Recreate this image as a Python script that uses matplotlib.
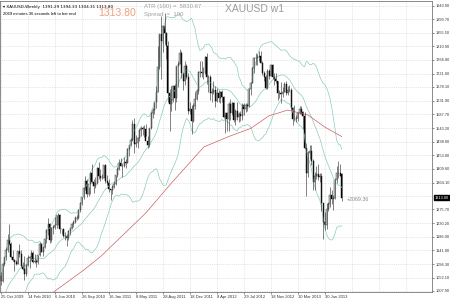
import numpy as np
import pandas as pd
import matplotlib
matplotlib.use("Agg")
import matplotlib.pyplot as plt
import matplotlib.transforms as mtransforms

# Weekly XAUUSD candles, one per week from the week of 25 Oct 2009.
opens = np.array([
    1057, 1041, 1096, 1118, 1142, 1175, 1162, 1119, 1110, 1104,
    1096, 1138, 1130, 1091, 1081, 1064, 1093, 1117, 1118, 1133,
    1102, 1106, 1104, 1125, 1162, 1136, 1153, 1179, 1208, 1229,
    1177, 1214, 1218, 1223, 1256, 1256, 1210, 1210, 1189, 1189,
    1181, 1204, 1215, 1227, 1236, 1247, 1246, 1274, 1297, 1317,
    1345, 1369, 1326, 1358, 1394, 1366, 1353, 1362, 1413, 1385,
    1378, 1380, 1421, 1369, 1361, 1343, 1340, 1348, 1360, 1388,
    1409, 1429, 1420, 1419, 1430, 1429, 1474, 1486, 1504, 1556,
    1492, 1493, 1510, 1536, 1542, 1541, 1539, 1502, 1486, 1542,
    1594, 1601, 1628, 1663, 1744, 1851, 1828, 1878, 1856, 1813,
    1657, 1622, 1636, 1682, 1642, 1746, 1755, 1788, 1724, 1696,
    1747, 1712, 1598, 1606, 1565, 1617, 1640, 1665, 1727, 1726,
    1725, 1724, 1777, 1710, 1711, 1657, 1662, 1668, 1631, 1657,
    1642, 1663, 1644, 1580, 1591, 1572, 1622, 1591, 1626, 1571,
    1598, 1579, 1590, 1583, 1619, 1605, 1620, 1616, 1671, 1692,
    1740, 1772, 1773, 1775, 1780, 1757, 1723, 1712, 1675, 1731,
    1714, 1751, 1712, 1704, 1696, 1657, 1658, 1656, 1662, 1687,
    1658, 1668, 1667, 1609, 1572, 1572, 1577, 1592, 1607, 1596,
    1581, 1477, 1395, 1462, 1469, 1435, 1366, 1386, 1392, 1383,
    1387, 1297, 1234, 1223, 1277, 1294, 1322, 1310, 1312, 1373,
    1396, 1396, 1391.29])
highs = np.array([
    1070, 1101, 1119, 1153, 1195, 1227, 1170, 1141, 1112, 1110,
    1140, 1162, 1143, 1104, 1122, 1096, 1127, 1122, 1142, 1139,
    1128, 1112, 1126, 1168, 1164, 1152, 1180, 1210, 1249, 1231,
    1217, 1226, 1252, 1258, 1265, 1262, 1213, 1216, 1202, 1194,
    1209, 1216, 1232, 1241, 1255, 1259, 1276, 1300, 1318, 1348,
    1387, 1375, 1350, 1398, 1424, 1375, 1382, 1414, 1432, 1407,
    1393, 1422, 1424, 1389, 1375, 1344, 1357, 1368, 1390, 1415,
    1440, 1445, 1427, 1448, 1440, 1476, 1487, 1509, 1569, 1577,
    1520, 1514, 1541, 1549, 1549, 1553, 1556, 1518, 1544, 1595,
    1610, 1628, 1681, 1813, 1853, 1912, 1881, 1921, 1859, 1830,
    1672, 1680, 1686, 1689, 1748, 1764, 1803, 1796, 1725, 1762,
    1752, 1724, 1628, 1620, 1626, 1661, 1671, 1730, 1764, 1763,
    1744, 1780, 1791, 1718, 1716, 1673, 1699, 1681, 1676, 1667,
    1666, 1667, 1647, 1590, 1597, 1627, 1640, 1628, 1628, 1605,
    1627, 1597, 1599, 1626, 1626, 1625, 1625, 1676, 1693, 1745,
    1777, 1788, 1787, 1796, 1795, 1763, 1730, 1718, 1737, 1737,
    1755, 1754, 1725, 1723, 1698, 1668, 1694, 1678, 1694, 1696,
    1680, 1684, 1674, 1612, 1620, 1587, 1595, 1616, 1616, 1600,
    1597, 1495, 1469, 1488, 1487, 1440, 1398, 1418, 1424, 1394,
    1397, 1298, 1267, 1298, 1299, 1348, 1339, 1323, 1380, 1419,
    1434, 1424, 1394.33])
lows = np.array([
    1026, 1036, 1090, 1111, 1135, 1160, 1116, 1108, 1075, 1092,
    1096, 1120, 1086, 1076, 1044, 1058, 1091, 1082, 1109, 1100,
    1100, 1086, 1096, 1124, 1135, 1124, 1150, 1165, 1192, 1167,
    1170, 1196, 1213, 1214, 1225, 1199, 1194, 1184, 1177, 1157,
    1177, 1192, 1210, 1219, 1231, 1240, 1243, 1268, 1290, 1310,
    1341, 1316, 1321, 1326, 1364, 1330, 1345, 1358, 1376, 1370,
    1375, 1378, 1361, 1355, 1332, 1308, 1327, 1345, 1356, 1382,
    1406, 1417, 1381, 1416, 1412, 1427, 1450, 1484, 1500, 1462,
    1480, 1478, 1501, 1518, 1521, 1515, 1516, 1478, 1482, 1540,
    1577, 1590, 1610, 1661, 1738, 1704, 1793, 1820, 1769, 1628,
    1534, 1600, 1628, 1603, 1628, 1678, 1752, 1706, 1667, 1685,
    1703, 1590, 1588, 1523, 1562, 1606, 1636, 1655, 1711, 1712,
    1705, 1722, 1688, 1660, 1635, 1627, 1656, 1612, 1627, 1629,
    1625, 1630, 1575, 1527, 1533, 1533, 1568, 1587, 1562, 1552,
    1571, 1564, 1567, 1568, 1585, 1596, 1598, 1612, 1653, 1690,
    1725, 1751, 1751, 1763, 1756, 1718, 1697, 1672, 1672, 1705,
    1713, 1705, 1683, 1692, 1635, 1642, 1625, 1645, 1660, 1652,
    1652, 1660, 1603, 1554, 1565, 1562, 1565, 1588, 1590, 1539,
    1475, 1321, 1383, 1443, 1423, 1338, 1339, 1375, 1373, 1366,
    1269, 1180, 1207, 1211, 1271, 1285, 1293, 1273, 1310, 1362,
    1380, 1384, 1304.31])
closes = np.array([
    1041, 1096, 1118, 1142, 1175, 1162, 1119, 1110, 1104, 1096,
    1138, 1130, 1091, 1081, 1064, 1093, 1117, 1118, 1133, 1102,
    1106, 1104, 1125, 1162, 1136, 1153, 1179, 1208, 1229, 1177,
    1214, 1218, 1223, 1256, 1256, 1210, 1210, 1189, 1189, 1181,
    1204, 1215, 1227, 1236, 1247, 1246, 1274, 1297, 1317, 1345,
    1369, 1326, 1358, 1394, 1366, 1353, 1362, 1413, 1385, 1378,
    1380, 1421, 1369, 1361, 1343, 1340, 1348, 1360, 1388, 1409,
    1429, 1420, 1419, 1430, 1429, 1474, 1486, 1504, 1556, 1492,
    1493, 1510, 1536, 1542, 1541, 1539, 1502, 1486, 1542, 1594,
    1601, 1628, 1663, 1744, 1851, 1828, 1878, 1856, 1813, 1657,
    1622, 1636, 1682, 1642, 1746, 1755, 1788, 1724, 1696, 1747,
    1712, 1598, 1606, 1565, 1617, 1640, 1665, 1727, 1726, 1725,
    1724, 1777, 1710, 1711, 1657, 1662, 1668, 1631, 1657, 1642,
    1663, 1644, 1580, 1591, 1572, 1622, 1591, 1626, 1571, 1598,
    1579, 1590, 1583, 1619, 1605, 1620, 1616, 1671, 1692, 1740,
    1772, 1773, 1775, 1780, 1757, 1723, 1712, 1675, 1731, 1714,
    1751, 1712, 1704, 1696, 1657, 1658, 1656, 1662, 1687, 1658,
    1668, 1667, 1609, 1572, 1572, 1577, 1592, 1607, 1596, 1581,
    1477, 1395, 1462, 1469, 1435, 1366, 1386, 1392, 1383, 1387,
    1297, 1234, 1223, 1277, 1294, 1322, 1310, 1312, 1373, 1396,
    1396, 1387, 1313.80])

# closes of the 19 weeks before the first visible bar (needed by the bands)
pre_closes = [935, 940, 930, 912, 938, 952, 955, 957, 948, 952,
              955, 995, 1006, 1010, 992, 1003, 1050, 1051, 1057]

# long moving average
ma_weeks = [31.4, 49.2, 59.3, 85.9, 100.7, 120.3, 135, 148.1, 158.8, 170, 182, 191.5, 202]
ma_values = [1005, 1077, 1122, 1264, 1360, 1481, 1515, 1542, 1583, 1602, 1586, 1548, 1515]

price_ticks = [1943.90, 1899.70, 1855.50, 1810.90, 1766.80, 1721.60, 1678.10,
               1631.90, 1587.70, 1543.20, 1498.00, 1453.80, 1409.60, 1364.10,
               1275.70, 1230.20, 1186.00, 1141.80, 1096.30, 1052.10, 1007.90]
date_labels = ["25 Oct 2009", "14 Feb 2010", "6 Jun 2010", "26 Sep 2010",
               "16 Jan 2011", "8 May 2011", "28 Aug 2011", "18 Dec 2011",
               "8 Apr 2012", "29 Jul 2012", "18 Nov 2012", "10 Mar 2013",
               "30 Jun 2013"]
last_price = 1313.80

weeks = np.arange(len(closes))

# Bollinger bands (20, 2)
s = pd.Series(list(pre_closes) + list(closes))
mid = s.rolling(20).mean().values[len(pre_closes):]
sd = s.rolling(20).std(ddof=0).values[len(pre_closes):]
upper = mid + 2 * sd
lower = mid - 2 * sd

plt.rcParams['font.family'] = ['Liberation Sans', 'DejaVu Sans']

fig = plt.figure(figsize=(4.5, 3), dpi=100)
fig.patch.set_facecolor('white')
ax = fig.add_axes([0, 8 / 300, 432 / 450, 291 / 300])

band_col = '#8ccbbb'
ax.plot(weeks, upper, color=band_col, lw=0.5)
ax.plot(weeks, mid, color=band_col, lw=0.5)
ax.plot(weeks, lower, color=band_col, lw=0.5)
ax.plot(ma_weeks, ma_values, color='#cc6060', lw=0.5)

# candles
ax.vlines(weeks, lows, highs, color='#222222', lw=0.4)
bull = closes >= opens
ax.bar(weeks[bull], (closes - opens)[bull], bottom=opens[bull], width=0.6,
       color='white', edgecolor='#222222', lw=0.3)
ax.bar(weeks[~bull], (opens - closes)[~bull], bottom=closes[~bull], width=0.6,
       color='black', edgecolor='black', lw=0.3)

ax.set_xlim(-0.5, 255.5)
ax.set_ylim(1004.6, 1960.3)

# grid
grid_x = np.arange(0, 256, 16)
for gx in grid_x:
    ax.axvline(gx, color='#cfcfcf', lw=0.5, ls=':', zorder=0)
for gy in price_ticks + [1319.9]:
    ax.axhline(gy, color='#cfcfcf', lw=0.5, ls=':', zorder=0)

ax.yaxis.tick_right()
ax.set_yticks(price_ticks)
ax.set_yticklabels(["%.2f" % p for p in price_ticks], fontsize=2.8, color='#333333')
ax.tick_params(axis='y', length=1.5, width=0.4, pad=1, colors='#333333')

ax.set_xticks(weeks[::16][:len(date_labels)])
ax.set_xticklabels(date_labels, fontsize=3.0, color='#333333', ha='left')
ax.tick_params(axis='x', length=1.5, width=0.4, pad=0.8, colors='#333333')

for sp in ax.spines.values():
    sp.set_color('#777777')
    sp.set_linewidth(0.6)

# current price marker on the price scale
tr = mtransforms.blended_transform_factory(ax.transAxes, ax.transData)
ax.text(1.006, last_price, "%.2f" % last_price, transform=tr, fontsize=2.8,
        color='white', va='center', ha='left',
        bbox=dict(boxstyle='square,pad=0.15', fc='black', ec='black'))

# overlay texts
ax.text(0.007, 0.985, "\u25be XAUUSD,Weekly  1391.29 1394.33 1304.31 1313.80",
        transform=ax.transAxes, fontsize=3.0, va='top', ha='left',
        family=['DejaVu Sans'])
ax.text(0.007, 0.963, "2069 minutes 36 seconds left to bar end",
        transform=ax.transAxes, fontsize=3.0, va='top', ha='left')
ax.text(98 / 432, 0.96, "1313.80", transform=ax.transAxes, fontsize=7.5,
        color='#f0a07a', va='center', ha='left')
ax.text(144 / 432, 0.98, "ATR (100) =  5830.67", transform=ax.transAxes,
        fontsize=4.3, color='#a0a0a0', va='center', ha='left')
ax.text(144 / 432, 0.952, "Spread  =  100", transform=ax.transAxes,
        fontsize=4.3, color='#a0a0a0', va='center', ha='left')
ax.text(225 / 432, 0.973, "XAUUSD w1", transform=ax.transAxes, fontsize=7.5,
        color='#9a9a9a', va='center', ha='left')
ax.text(weeks[-1] + 3, last_price - 4, "+2069.36", fontsize=3.8,
        color='#8a8a8a', va='center', ha='left')

fig.savefig("out.png", dpi=100, facecolor='white')
